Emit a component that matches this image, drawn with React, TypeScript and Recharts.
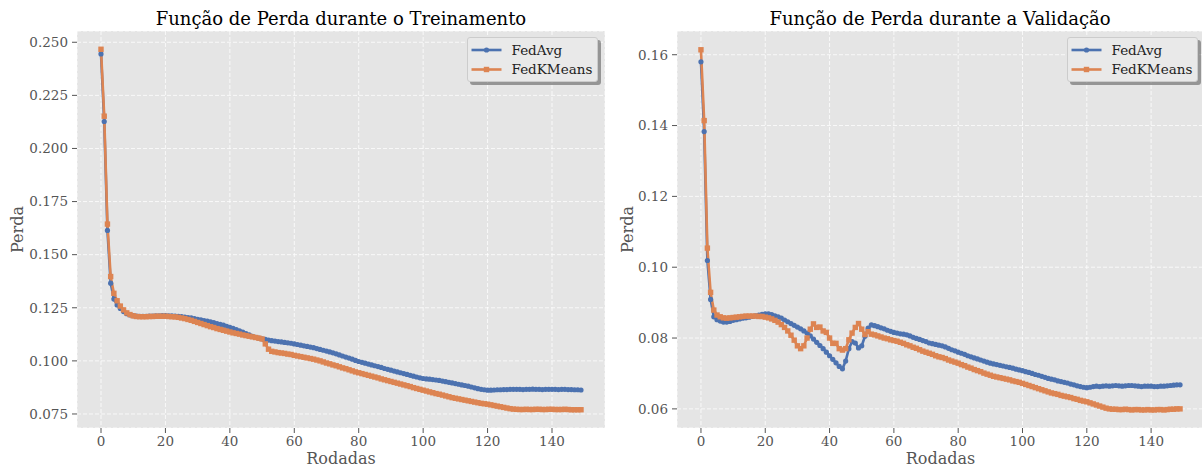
import React from 'react';
import { LineChart, Line, XAxis, YAxis, CartesianGrid, Legend } from 'recharts';

const FONT = "'DejaVu Serif', serif";
const BLUE = '#4C72B0';
const ORANGE = '#DD8452';

const seriesNames = ['FedAvg', 'FedKMeans'];
const xTicks = [0, 20, 40, 60, 80, 100, 120, 140];
const trainTicks = [0.075, 0.1, 0.125, 0.15, 0.175, 0.2, 0.225, 0.25];
const valTicks = [0.06, 0.08, 0.1, 0.12, 0.14, 0.16];

const trainFedAvg = [
  0.2445, 0.2127, 0.1614, 0.1366, 0.1291, 0.1263, 0.1247, 0.1232, 0.1222, 0.1216,
  0.1213, 0.1211, 0.1210, 0.1210, 0.1210, 0.1211, 0.1211, 0.1212, 0.1212, 0.1213,
  0.1213, 0.1212, 0.1212, 0.1211, 0.1210, 0.1208, 0.1206, 0.1204, 0.1202, 0.1199,
  0.1196, 0.1193, 0.1190, 0.1187, 0.1184, 0.1180, 0.1176, 0.1172, 0.1168, 0.1163,
  0.1158, 0.1153, 0.1147, 0.1141, 0.1135, 0.1128, 0.1122, 0.1116, 0.1111, 0.1107,
  0.1104, 0.1101, 0.1098, 0.1095, 0.1093, 0.1091, 0.1089, 0.1087, 0.1085, 0.1083,
  0.1080, 0.1077, 0.1074, 0.1071, 0.1068, 0.1065, 0.1062, 0.1058, 0.1054, 0.1050,
  0.1046, 0.1042, 0.1038, 0.1033, 0.1028, 0.1023, 0.1018, 0.1013, 0.1008, 0.1002,
  0.0997, 0.0993, 0.0989, 0.0985, 0.0981, 0.0977, 0.0973, 0.0969, 0.0964, 0.0960,
  0.0956, 0.0952, 0.0948, 0.0944, 0.0940, 0.0936, 0.0932, 0.0928, 0.0924, 0.0920,
  0.0917, 0.0915, 0.0914, 0.0912, 0.0910, 0.0908, 0.0905, 0.0902, 0.0899, 0.0896,
  0.0893, 0.0890, 0.0887, 0.0884, 0.0881, 0.0877, 0.0873, 0.0869, 0.0866, 0.0864,
  0.0862, 0.0862, 0.0863, 0.0864, 0.0864, 0.0865, 0.0865, 0.0866, 0.0866, 0.0866,
  0.0866, 0.0865, 0.0866, 0.0866, 0.0867, 0.0866, 0.0866, 0.0865, 0.0866, 0.0866,
  0.0866, 0.0866, 0.0865, 0.0866, 0.0866, 0.0865, 0.0865, 0.0864, 0.0864, 0.0863,
];

const trainFedKMeans = [
  0.2467, 0.2152, 0.1644, 0.1397, 0.1318, 0.1283, 0.1258, 0.1240, 0.1226, 0.1218,
  0.1212, 0.1209, 0.1208, 0.1208, 0.1208, 0.1209, 0.1209, 0.1210, 0.1210, 0.1210,
  0.1210, 0.1209, 0.1208, 0.1207, 0.1205, 0.1202, 0.1199, 0.1195, 0.1191, 0.1186,
  0.1181, 0.1176, 0.1171, 0.1166, 0.1161, 0.1157, 0.1152, 0.1148, 0.1144, 0.1140,
  0.1136, 0.1132, 0.1129, 0.1126, 0.1122, 0.1119, 0.1116, 0.1113, 0.1110, 0.1107,
  0.1103, 0.1080, 0.1055, 0.1045, 0.1042, 0.1039, 0.1037, 0.1035, 0.1032, 0.1030,
  0.1026, 0.1023, 0.1020, 0.1017, 0.1014, 0.1011, 0.1008, 0.1004, 0.1000, 0.0995,
  0.0990, 0.0986, 0.0981, 0.0977, 0.0972, 0.0967, 0.0963, 0.0958, 0.0953, 0.0948,
  0.0944, 0.0940, 0.0936, 0.0932, 0.0928, 0.0924, 0.0920, 0.0915, 0.0911, 0.0907,
  0.0903, 0.0899, 0.0895, 0.0891, 0.0887, 0.0883, 0.0879, 0.0874, 0.0870, 0.0866,
  0.0862, 0.0858, 0.0854, 0.0850, 0.0846, 0.0843, 0.0839, 0.0835, 0.0831, 0.0827,
  0.0824, 0.0821, 0.0818, 0.0815, 0.0812, 0.0809, 0.0806, 0.0803, 0.0800, 0.0798,
  0.0796, 0.0793, 0.0790, 0.0787, 0.0784, 0.0781, 0.0778, 0.0775, 0.0773, 0.0772,
  0.0771, 0.0771, 0.0772, 0.0771, 0.0771, 0.0772, 0.0772, 0.0771, 0.0771, 0.0772,
  0.0772, 0.0771, 0.0771, 0.0771, 0.0772, 0.0771, 0.0770, 0.0770, 0.0770, 0.0770,
];

const valFedAvg = [
  0.1580, 0.1383, 0.1019, 0.0909, 0.0860, 0.0852, 0.0848, 0.0845, 0.0845, 0.0847,
  0.0850, 0.0852, 0.0854, 0.0856, 0.0857, 0.0859, 0.0861, 0.0863, 0.0865, 0.0867,
  0.0868, 0.0868, 0.0866, 0.0863, 0.0860, 0.0856, 0.0851, 0.0846, 0.0841, 0.0836,
  0.0831, 0.0826, 0.0820, 0.0814, 0.0806, 0.0797, 0.0788, 0.0779, 0.0770, 0.0760,
  0.0750, 0.0740, 0.0730, 0.0720, 0.0713, 0.0735, 0.0770, 0.0790, 0.0786, 0.0772,
  0.0778, 0.0805, 0.0828, 0.0837, 0.0835, 0.0832, 0.0829, 0.0826, 0.0822, 0.0819,
  0.0816, 0.0814, 0.0812, 0.0811, 0.0809, 0.0806, 0.0802, 0.0799, 0.0796, 0.0793,
  0.0790, 0.0786, 0.0784, 0.0782, 0.0780, 0.0778, 0.0775, 0.0771, 0.0767, 0.0764,
  0.0760, 0.0757, 0.0754, 0.0750, 0.0747, 0.0744, 0.0741, 0.0738, 0.0735, 0.0732,
  0.0729, 0.0727, 0.0725, 0.0723, 0.0721, 0.0719, 0.0717, 0.0715, 0.0712, 0.0710,
  0.0708, 0.0705, 0.0703, 0.0700, 0.0697, 0.0695, 0.0692, 0.0689, 0.0686, 0.0684,
  0.0682, 0.0679, 0.0677, 0.0675, 0.0673, 0.0670, 0.0668, 0.0665, 0.0663, 0.0661,
  0.0660, 0.0661, 0.0663, 0.0664, 0.0663, 0.0664, 0.0665, 0.0664, 0.0665, 0.0666,
  0.0665, 0.0664, 0.0665, 0.0666, 0.0666, 0.0665, 0.0664, 0.0663, 0.0664, 0.0664,
  0.0664, 0.0663, 0.0663, 0.0664, 0.0664, 0.0665, 0.0666, 0.0667, 0.0668, 0.0668,
];

const valFedKMeans = [
  0.1614, 0.1414, 0.1054, 0.0929, 0.0879, 0.0865, 0.0860, 0.0857, 0.0856, 0.0857,
  0.0858, 0.0859, 0.0860, 0.0861, 0.0862, 0.0862, 0.0862, 0.0862, 0.0861, 0.0861,
  0.0859, 0.0857, 0.0854, 0.0850, 0.0845, 0.0838, 0.0830, 0.0820, 0.0808, 0.0794,
  0.0778, 0.0770, 0.0778, 0.0800, 0.0825, 0.0840, 0.0830, 0.0831, 0.0820, 0.0816,
  0.0800, 0.0785, 0.0785, 0.0770, 0.0766, 0.0770, 0.0795, 0.0814, 0.0830, 0.0841,
  0.0825, 0.0810, 0.0818, 0.0811, 0.0809, 0.0806, 0.0803, 0.0800, 0.0798, 0.0795,
  0.0793, 0.0791, 0.0788, 0.0785, 0.0781, 0.0778, 0.0774, 0.0771, 0.0767, 0.0763,
  0.0760, 0.0757, 0.0754, 0.0750, 0.0747, 0.0745, 0.0742, 0.0738, 0.0735, 0.0732,
  0.0729, 0.0725, 0.0722, 0.0718, 0.0715, 0.0711, 0.0708, 0.0705, 0.0701, 0.0698,
  0.0695, 0.0692, 0.0690, 0.0688, 0.0686, 0.0684, 0.0682, 0.0679, 0.0677, 0.0675,
  0.0672, 0.0669, 0.0666, 0.0663, 0.0660, 0.0657, 0.0654, 0.0651, 0.0648, 0.0645,
  0.0643, 0.0641, 0.0638, 0.0636, 0.0634, 0.0632, 0.0629, 0.0627, 0.0624, 0.0622,
  0.0620, 0.0617, 0.0614, 0.0611, 0.0608, 0.0605, 0.0602, 0.0600, 0.0599, 0.0599,
  0.0598, 0.0598, 0.0599, 0.0598, 0.0597, 0.0598, 0.0598, 0.0597, 0.0597, 0.0598,
  0.0597, 0.0597, 0.0598, 0.0598, 0.0597, 0.0598, 0.0599, 0.0599, 0.0600, 0.0600,
];

const buildRows = (a: number[], b: number[]) =>
  a.map((v, i) => ({ round: i, FedAvg: v, FedKMeans: b[i] }));

const trainRows = buildRows(trainFedAvg, trainFedKMeans);
const valRows = buildRows(valFedAvg, valFedKMeans);

const SquareDot = (props: any) => {
  const { cx, cy, index } = props;
  if (cx == null || cy == null) return <g key={`s-${index}`} />;
  return <rect key={`s-${index}`} x={cx - 2.7} y={cy - 2.7} width={5.4} height={5.4} fill={ORANGE} />;
};

const CircleDot = (props: any) => {
  const { cx, cy, index } = props;
  if (cx == null || cy == null) return <g key={`c-${index}`} />;
  return <circle key={`c-${index}`} cx={cx} cy={cy} r={2.6} fill={BLUE} />;
};

const LegendContent = (props: any) => {
  const payload = (props.payload || []) as any[];
  return (
    <div style={{ position: 'relative', width: 134, height: 48 }}>
      <div style={{ position: 'absolute', left: 3, top: 3, width: 131, height: 45, background: 'rgba(0,0,0,0.35)', borderRadius: 3 }} />
      <div style={{ position: 'absolute', left: 0, top: 0, width: 129, height: 43, background: '#E9E9E9', border: '1px solid #cccccc', borderRadius: 3 }} />
      <svg width={131} height={45} style={{ position: 'absolute', left: 0, top: 0 }}>
        {payload.map((p, i) => {
          const y = 13 + i * 19.5;
          return (
            <g key={p.value}>
              <line x1={4.5} x2={34.5} y1={y} y2={y} stroke={p.color} strokeWidth={2.6} />
              {p.value === 'FedAvg'
                ? <circle cx={19.5} cy={y} r={2.6} fill={p.color} />
                : <rect x={16.8} y={y - 2.7} width={5.4} height={5.4} fill={p.color} />}
              <text x={44.5} y={y} dy="0.35em" fontSize={13.5} fontFamily={FONT} fill="#222">{p.value}</text>
            </g>
          );
        })}
      </svg>
    </div>
  );
};

const axisTick = { fill: '#555555', fontSize: 13.5, fontFamily: FONT };
const labelStyle = { fill: '#555555', fontSize: 16, fontFamily: FONT };

interface PanelProps {
  rows: any[];
  domain: [number, number];
  ticks: number[];
  digits: number;
  width: number;
  yLabelOffset: number;
  marginRight: number;
}

const Panel = ({ rows, domain, ticks, digits, width, yLabelOffset, marginRight }: PanelProps) => (
  <LineChart width={width} height={467} data={rows} margin={{ top: 31, right: marginRight, bottom: 0, left: 0 }}>
    <CartesianGrid fill="#E5E5E5" stroke="#ffffff" strokeOpacity={0.85} strokeDasharray="4 2" strokeWidth={0.9} />
    <XAxis
      dataKey="round"
      type="number"
      domain={[-7.45, 156.45]}
      ticks={xTicks}
      allowDataOverflow
      height={39}
      axisLine={false}
      tickLine={{ stroke: '#555555' }}
      tickSize={5}
      tickMargin={3}
      tick={axisTick}
      label={{ value: 'Rodadas', position: 'insideBottom', offset: 3, style: labelStyle }}
    />
    <YAxis
      type="number"
      domain={domain}
      ticks={ticks}
      allowDataOverflow
      width={77}
      axisLine={false}
      tickLine={{ stroke: '#555555' }}
      tickSize={5}
      tickMargin={4}
      tick={axisTick}
      tickFormatter={(v: number) => v.toFixed(digits)}
      label={{ value: 'Perda', angle: -90, position: 'insideLeft', offset: yLabelOffset, style: { ...labelStyle, textAnchor: 'middle' } }}
    />
    <Legend
      layout="vertical"
      align="center"
      verticalAlign="middle"
      wrapperStyle={{ left: 467, top: 37, width: 134, height: 48 }}
      content={LegendContent}
    />
    <Line
      dataKey={seriesNames[0]}
      name={seriesNames[0]}
      type="linear"
      stroke={BLUE}
      strokeWidth={2.6}
      dot={CircleDot}
      activeDot={false}
      isAnimationActive={false}
    />
    <Line
      dataKey={seriesNames[1]}
      name={seriesNames[1]}
      type="linear"
      stroke={ORANGE}
      strokeWidth={2.6}
      dot={SquareDot}
      activeDot={false}
      isAnimationActive={false}
    />
  </LineChart>
);

export default function App() {
  return (
    <div style={{ position: 'absolute', left: 0, top: 0, width: 1202, height: 467, overflow: 'hidden', background: '#ffffff' }}>
      <div style={{ position: 'absolute', left: 0, top: 0 }}>
        <Panel rows={trainRows} domain={[0.0684, 0.2553]} ticks={trainTicks} digits={3} width={610} yLabelOffset={17} marginRight={5} />
      </div>
      <div style={{ position: 'absolute', left: 600, top: 0 }}>
        <Panel rows={valRows} domain={[0.0546, 0.1667]} ticks={valTicks} digits={2} width={604} yLabelOffset={27} marginRight={0} />
      </div>
      <svg width={1202} height={40} style={{ position: 'absolute', left: 0, top: 0, pointerEvents: 'none' }}>
        <text x={341} y={25} textAnchor="middle" fontSize={18} fontFamily={FONT} fill="#000">Função de Perda durante o Treinamento</text>
        <text x={940} y={25} textAnchor="middle" fontSize={18} fontFamily={FONT} fill="#000">Função de Perda durante a Validação</text>
      </svg>
    </div>
  );
}
